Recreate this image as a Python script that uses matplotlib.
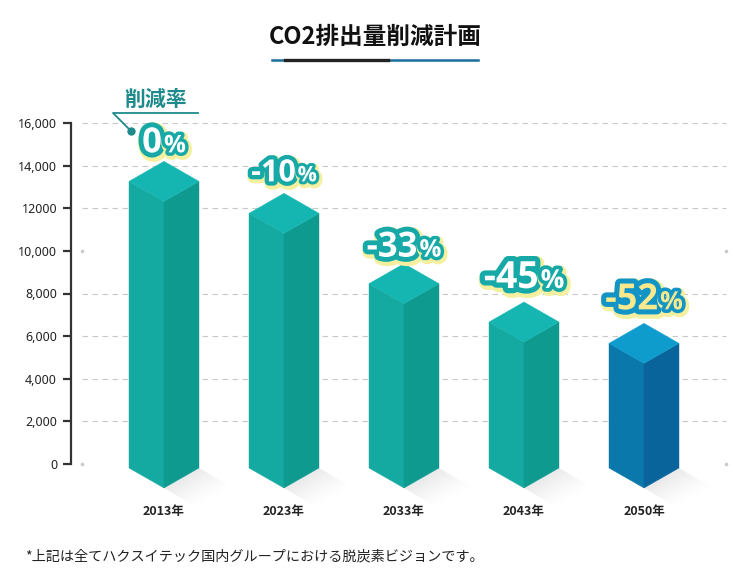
import numpy as np
import matplotlib
matplotlib.use('Agg')
import matplotlib.pyplot as plt
from matplotlib import patheffects as pe
from matplotlib.patches import Polygon
from matplotlib.lines import Line2D
import matplotlib.transforms as mtrans

# ---------------- data ----------------
years = ['2013年', '2023年', '2033年', '2043年', '2050年']
emissions = [14200, 12700, 9400, 7600, 6600]
reduction_labels = ['0', '-10', '-33', '-45', '-52']
ytick_values = [0, 2000, 4000, 6000, 8000, 10000, 12000, 14000, 16000]
ytick_labels = ['0', '2,000', '4,000', '6,000', '8,000', '10,000', '12000', '14,000', '16,000']
title = 'CO2排出量削減計画'
callout = '削減率'
footnote = '*上記は全てハクスイテック国内グループにおける脱炭素ビジョンです。'

# ---------------- styles ----------------
plt.rcParams['font.family'] = ['Noto Sans CJK JP', 'DejaVu Sans']
W, H, DPI = 733, 573, 100
PX_X = 120.0                 # px per category
PX_Y = 341.0 / 16000.0       # px per unit
X0, Y0 = 164.0, 464.0        # pixel of (0, 0)
teal = dict(left='#14AAA2', right='#0F9A90', top='#15B6B1')
blue = dict(left='#0B78AB', right='#08649A', top='#0E9CCD')
bar_colors = [teal, teal, teal, teal, blue]
num_sizes = [25, 22, 25, 27, 26]
lab_off_px = [9, 12, 7, 14, 14]
lab_fill = ['white'] * 4 + ['#F8E98C']
lab_stroke = ['#17A9A7'] * 4 + ['#1294C7']
glow = '#F4F0A0'

fig = plt.figure(figsize=(W / DPI, H / DPI), dpi=DPI)
ax = fig.add_axes([0, 0, 1, 1])
ax.set_xlim((0 - X0) / PX_X, (W - X0) / PX_X)
ax.set_ylim((Y0 - H) / PX_Y, Y0 / PX_Y)
ax.patch.set_alpha(0)
for s in ['top', 'right', 'bottom']:
    ax.spines[s].set_visible(False)
ax.spines['left'].set_position(('data', (71 - X0) / PX_X))
ax.spines['left'].set_bounds(0, 16000)
ax.spines['left'].set_linewidth(1.6)
ax.spines['left'].set_color('#333333')
ax.set_xticks([])
ax.set_yticks(ytick_values, ytick_labels)
ax.tick_params(axis='y', direction='out', length=6, width=1.6, color='#333333',
               pad=4, labelsize=9, labelcolor='#222222')
for lab in ax.get_yticklabels():
    lab.set_fontweight('bold')
    lab.set_family(['Noto Sans', 'DejaVu Sans'])


def px2x(p):
    return (p - X0) / PX_X


def px2y(p):
    return (Y0 - p) / PX_Y


# grid
gx0, gx1 = px2x(82), px2x(726)
for v in ytick_values:
    if v in (0, 10000):
        ax.plot([gx0, gx1], [v, v], ls='none', marker='o', ms=1.5, color='#C8C8C8', zorder=1)
    else:
        ax.plot([gx0, gx1], [v, v], color='#C8C8C8', lw=0.8, ls=(0, (5, 4)), zorder=1)

# bars
hw = 35 / PX_X
d = 20 / PX_Y
base = -4 / PX_Y
for i, v in enumerate(emissions):
    c = i
    col = bar_colors[i]
    # shadow (gradient clipped to a parallelogram)
    A = np.array([X0 + c * PX_X, Y0 + 24.0])
    B = A + np.array([35.0, -20.0])
    sdir = np.array([34.0, 20.0])
    poly_px = [A, B, B + sdir, A + sdir]
    bx0, bx1 = A[0] - 2, A[0] + 75
    by0, by1 = Y0 - 2, Y0 + 50
    nx, ny = int(bx1 - bx0) * 2, int(by1 - by0) * 2
    gx = np.linspace(bx0, bx1, nx)
    gy = np.linspace(by0, by1, ny)
    GX, GY = np.meshgrid(gx, gy)
    e = (B - A) / np.linalg.norm(B - A)
    nvec = np.array([e[1], -e[0]])
    if np.dot(nvec, sdir) < 0:
        nvec = -nvec
    dist = (GX - A[0]) * nvec[0] + (GY - A[1]) * nvec[1]
    dmax = np.dot(sdir, nvec)
    tt = np.clip(dist / dmax, 0, 1)
    img = np.zeros((ny, nx, 4))
    img[..., :3] = 0.6
    img[..., 3] = 0.22 * (1 - tt) ** 1.4
    im = ax.imshow(img, extent=(px2x(bx0), px2x(bx1), px2y(by1), px2y(by0)),
                   origin='upper', aspect='auto', interpolation='bilinear', zorder=2)
    clip = Polygon([(px2x(p[0]), px2y(p[1])) for p in poly_px], closed=True,
                   transform=ax.transData, facecolor='none', edgecolor='none')
    ax.add_patch(clip)
    im.set_clip_path(clip)

    left_face = [(c - hw, v - d), (c, v - 2 * d), (c, base - d), (c - hw, base)]
    right_face = [(c, v - 2 * d), (c + hw, v - d), (c + hw, base), (c, base - d)]
    top_face = [(c - hw, v - d), (c, v), (c + hw, v - d), (c, v - 2 * d)]
    for pts, key in [(left_face, 'left'), (right_face, 'right'), (top_face, 'top')]:
        ax.add_patch(Polygon(pts, closed=True, facecolor=col[key], edgecolor=col[key],
                             lw=0.3, zorder=3))
    ax.text(c, px2y(511), years[i], ha='center', va='center', fontsize=9,
            fontweight='bold', color='#222222', zorder=4)

# percent labels
items = []
for i, (v, lab) in enumerate(zip(emissions, reduction_labels)):
    y = v + lab_off_px[i] / PX_Y
    s = num_sizes[i]
    effects = [pe.Stroke(linewidth=s * 0.40, foreground=glow, offset=(1.2, -1.6)),
               pe.Stroke(linewidth=s * 0.28, foreground=lab_stroke[i]),
               pe.Normal()]
    effects2 = [pe.Stroke(linewidth=s * 0.30, foreground=glow, offset=(1.2, -1.6)),
                pe.Stroke(linewidth=s * 0.2, foreground=lab_stroke[i]),
                pe.Normal()]
    t1 = ax.text(i, y, lab, ha='left', va='baseline', fontsize=s, fontweight='bold',
                 family=['Open Sans', 'DejaVu Sans'], color=lab_fill[i],
                 path_effects=effects, zorder=6)
    t2 = ax.text(i, y, '%', ha='left', va='baseline', fontsize=s * 0.7, fontweight='bold',
                 family=['Open Sans', 'DejaVu Sans'], color=lab_fill[i],
                 path_effects=effects2, zorder=6)
    items.append((t1, t2))
fig.canvas.draw()
r = fig.canvas.get_renderer()
for t1, t2 in items:
    w1 = t1.get_window_extent(r).width
    w2 = t2.get_window_extent(r).width
    gap = 2
    tot = w1 + w2 + gap
    t1.set_transform(mtrans.offset_copy(ax.transData, fig=fig, x=-tot / 2, y=0, units='dots'))
    t2.set_transform(mtrans.offset_copy(ax.transData, fig=fig, x=-tot / 2 + w1 + gap, y=0, units='dots'))


# figure-level decorations (pixel helpers)
def fx(p):
    return p / W


def fy(p):
    return 1 - p / H


fig.text(fx(375), fy(37), title, ha='center', va='center', fontsize=17,
         fontweight='bold', color='#111111')
fig.add_artist(Line2D([fx(272), fx(478)], [fy(59.5), fy(59.5)], color='#1A6F9C', lw=1.8))
fig.add_artist(Line2D([fx(285), fx(388)], [fy(60), fy(60)], color='#222222', lw=2.4))

cc = '#1F8A8C'
fig.text(fx(156), fy(99), callout, ha='center', va='center', fontsize=15,
         fontweight='bold', color=cc)
fig.add_artist(Line2D([fx(198), fx(113), fx(131)], [fy(113), fy(113), fy(131)],
                      color=cc, lw=1.3))
fig.add_artist(Line2D([fx(131)], [fy(131)], marker='o', ms=5, color=cc))

fig.text(fx(25), fy(556), footnote, ha='left', va='center', fontsize=10.2, color='#222222')

fig.savefig('out.png', dpi=DPI)
